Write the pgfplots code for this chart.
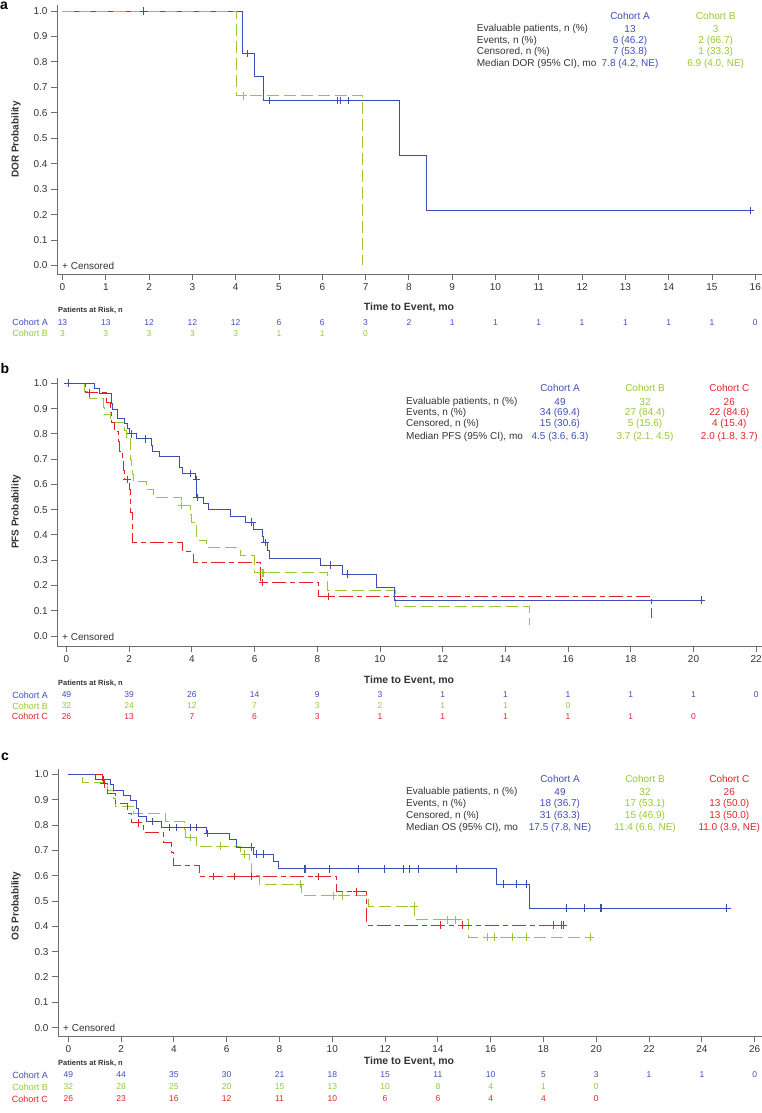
\documentclass[border=0pt]{standalone}
\usepackage{fontspec}
\setmainfont{Liberation Sans}
\usepackage{pgfplots}
\pgfplotsset{compat=1.18}
\definecolor{cA}{RGB}{62,78,184}
\definecolor{cB}{RGB}{150,200,50}
\definecolor{cC}{RGB}{228,35,40}
\definecolor{txt}{RGB}{51,51,51}
\definecolor{axl}{RGB}{110,110,110}
\pgfplotsset{
  kmaxis/.style={
    scale only axis, axis x line*=bottom, axis y line*=left,
    tick align=outside, major tick length=6pt,
    axis line style={axl, line width=0.9pt},
    tick style={axl, line width=0.9pt},
    ytick={0,0.1,0.2,0.3,0.4,0.5,0.6,0.7,0.8,0.9,1},
    tick label style={font=\fontsize{10}{12}\selectfont, text=txt},
    yticklabel style={/pgf/number format/.cd, fixed, fixed zerofill, precision=1},
    /pgf/number format/assume math mode=true,
    clip=false, anchor=south west,
  },
  lineA/.style={cA, line width=0.9pt, const plot, no marks},
  lineB/.style={cB, line width=0.9pt, const plot, no marks, dash pattern=on 12pt off 5pt},
  lineC/.style={cC, line width=0.9pt, const plot, no marks, dash pattern=on 14pt off 4pt on 5pt off 4pt},
  censA/.style={cA, only marks, mark=+, mark size=3.8pt, mark options={line width=0.9pt, solid}},
  censB/.style={cB, only marks, mark=+, mark size=3.8pt, mark options={line width=0.9pt, solid}},
  censC/.style={cC, only marks, mark=+, mark size=3.8pt, mark options={line width=0.9pt, solid}},
}
\newcommand{\tf}{\fontsize{10}{12}\selectfont}
\newcommand{\rf}{\fontsize{8.5}{10}\selectfont}
\newcommand{\lf}{\fontsize{9}{10}\selectfont}
\begin{document}
\begin{tikzpicture}
\path[use as bounding box] (0,0) rectangle (762pt,1113pt);
% ---------------- Panel a ----------------
\begin{axis}[kmaxis, at={(57pt,839pt)}, width=705pt, height=269pt,
  xmin=-0.127, xmax=16.155, ymin=-0.0334, ymax=1.0236,
  xtick={0,1,...,16}]
\addplot[lineA] coordinates {(0,1) (4.16,0.833) (4.44,0.741) (4.64,0.648) (7.78,0.432) (8.41,0.216) (15.88,0.216)};
\addplot[lineB] coordinates {(0,1) (4.01,0.667) (6.93,0)};
\addplot[censA] coordinates {(1.88,1) (4.27,0.833) (4.77,0.648) (6.35,0.648) (6.41,0.648) (6.6,0.648) (15.88,0.216)};
\addplot[censB] coordinates {(4.18,0.667)};
\end{axis}
% ---------------- Panel b ----------------
\begin{axis}[kmaxis, at={(57.3pt,467pt)}, width=704.7pt, height=268pt,
  xmin=-0.293, xmax=22.185, ymin=-0.0396, ymax=1.021,
  xtick={0,2,...,22}]
\addplot[lineB] coordinates {(0,1) (0.57,0.969) (0.73,0.94) (1.18,0.906) (1.2,0.875) (1.4,0.844) (1.85,0.813) (1.9,0.781) (2.04,0.70) (2.08,0.66) (2.1,0.64) (2.14,0.61) (2.55,0.58) (2.78,0.548) (3.67,0.516) (3.94,0.48) (3.98,0.45) (4.15,0.38) (4.47,0.35) (5.54,0.317) (5.99,0.25) (8.32,0.18) (10.48,0.116) (14.76,0.045)};
\addplot[lineC] coordinates {(0,1) (0.6,0.962) (1.26,0.923) (1.39,0.885) (1.42,0.846) (1.53,0.808) (1.67,0.77) (1.7,0.731) (1.8,0.692) (1.82,0.654) (1.85,0.62) (2.0,0.578) (2.05,0.49) (2.1,0.37) (3.7,0.333) (4.04,0.29) (6.2,0.211) (8.05,0.156) (18.67,0.07)};
\addplot[lineA] coordinates {(0,1) (0.89,0.98) (1.05,0.959) (1.42,0.92) (1.47,0.898) (1.64,0.86) (1.85,0.84) (1.96,0.82) (2.0,0.80) (2.22,0.78) (2.7,0.755) (2.74,0.73) (2.97,0.71) (3.61,0.665) (3.7,0.643) (4.1,0.62) (4.15,0.548) (4.36,0.525) (4.52,0.50) (5.22,0.475) (5.7,0.45) (5.97,0.42) (6.24,0.394) (6.29,0.37) (6.4,0.34) (6.48,0.305) (8.1,0.28) (8.8,0.245) (9.9,0.193) (10.47,0.142) (20.26,0.142)};
\addplot[censA] coordinates {(0.05,1) (2.06,0.80) (2.51,0.78) (3.94,0.643) (4.15,0.62) (4.17,0.548) (5.91,0.45) (6.34,0.37) (8.43,0.28) (8.96,0.245) (20.26,0.142)};
\addplot[censB] coordinates {(3.67,0.516) (6.26,0.25) (6.29,0.25)};
\addplot[censC] coordinates {(0.73,0.962) (1.93,0.62) (6.26,0.211) (8.37,0.156)};
\end{axis}
% ---------------- Panel c ----------------
\begin{axis}[kmaxis, at={(58pt,77pt)}, width=704pt, height=267pt,
  xmin=-0.39, xmax=26.277, ymin=-0.0332, ymax=1.021,
  xtick={0,2,...,26}]
\addplot[lineB] coordinates {(0,1) (0.53,0.969) (1.49,0.938) (1.7,0.906) (1.77,0.875) (2.46,0.846) (3.69,0.813) (4.39,0.781) (4.45,0.75) (4.84,0.716) (6.53,0.685) (6.86,0.65) (6.94,0.6) (7.23,0.567) (8.84,0.52) (11.36,0.48) (13.1,0.425) (15.15,0.357) (19.76,0.357)};
\addplot[lineC] coordinates {(0,1) (1.3,0.962) (1.48,0.923) (1.77,0.885) (2.25,0.846) (2.4,0.808) (2.84,0.77) (3.6,0.73) (3.91,0.69) (3.99,0.642) (4.96,0.596) (10.16,0.536) (11.3,0.405) (18.76,0.405)};
\addplot[lineA] coordinates {(0,1) (1.01,0.98) (1.58,0.959) (1.7,0.938) (2.08,0.918) (2.37,0.897) (2.59,0.866) (2.65,0.835) (2.97,0.814) (3.54,0.79) (5.24,0.766) (6.1,0.742) (6.38,0.713) (7.0,0.685) (7.77,0.656) (7.95,0.627) (16.2,0.567) (17.48,0.471) (24.94,0.471)};
\addplot[censA] coordinates {(1.33,0.98) (3.19,0.814) (3.85,0.79) (4.1,0.79) (4.61,0.79) (4.86,0.79) (5.27,0.766) (6.94,0.713) (7.13,0.685) (7.39,0.685) (8.96,0.627) (9.0,0.627) (9.89,0.627) (10.98,0.627) (11.96,0.627) (12.7,0.627) (12.94,0.627) (13.28,0.627) (14.71,0.627) (16.48,0.567) (16.96,0.567) (17.34,0.567) (18.87,0.471) (19.55,0.471) (20.14,0.471) (20.2,0.471) (24.94,0.471)};
\addplot[censB] coordinates {(4.61,0.75) (5.75,0.716) (6.69,0.685) (8.78,0.567) (10.04,0.52) (10.37,0.52) (13.1,0.48) (14.36,0.425) (14.68,0.425) (15.87,0.357) (16.13,0.357) (16.82,0.357) (17.35,0.357) (19.76,0.357)};
\addplot[censC] coordinates {(1.36,0.962) (2.65,0.808) (5.49,0.596) (6.31,0.596) (6.94,0.596) (9.47,0.596) (10.92,0.536) (14.08,0.405) (14.92,0.405) (18.37,0.405) (18.69,0.405) (18.76,0.405)};
\end{axis}
% ---------------- Text ----------------
\begin{scope}[x=1pt, y=-1pt, yshift=1113pt]
% panel letters
\node[font=\fontsize{14}{14}\selectfont\bfseries] at (4,6) {a};
\node[font=\fontsize{14}{14}\selectfont\bfseries] at (5,369) {b};
\node[font=\fontsize{14}{14}\selectfont\bfseries] at (5,757) {c};
% y labels
\node[rotate=90, font=\tf\bfseries, text=txt] at (16,139.5) {DOR Probability};
\node[rotate=90, font=\tf\bfseries, text=txt] at (16,512) {PFS Probability};
\node[rotate=90, font=\tf\bfseries, text=txt] at (16,906) {OS Probability};
% censored note
\node[anchor=west, font=\tf, text=txt, inner sep=0pt] at (62,265.5) {+ Censored};
\node[anchor=west, font=\tf, text=txt, inner sep=0pt] at (62,636.5) {+ Censored};
\node[anchor=west, font=\tf, text=txt, inner sep=0pt] at (63,1028) {+ Censored};
% x labels
\node[font=\fontsize{10.5}{12}\selectfont\bfseries, text=txt] at (409,307.7) {Time to Event, mo};
\node[font=\fontsize{10.5}{12}\selectfont\bfseries, text=txt] at (409,680.7) {Time to Event, mo};
\node[font=\fontsize{10.5}{12}\selectfont\bfseries, text=txt] at (409,1061.7) {Time to Event, mo};
% patients at risk headings
\node[anchor=west, inner sep=0pt, font=\fontsize{7.5}{9}\selectfont\bfseries, text=txt] at (58,310.5) {Patients at Risk, n};
\node[anchor=west, inner sep=0pt, font=\fontsize{7.5}{9}\selectfont\bfseries, text=txt] at (58,683) {Patients at Risk, n};
\node[anchor=west, inner sep=0pt, font=\fontsize{7.5}{9}\selectfont\bfseries, text=txt] at (58,1063.5) {Patients at Risk, n};
% risk table a
\node[anchor=east, inner sep=0pt, font=\lf, text=cA] at (48,322.3) {Cohort A};
\node[anchor=east, inner sep=0pt, font=\lf, text=cB] at (48,333.7) {Cohort B};
\foreach \v [count=\i from 0] in {13,13,12,12,12,6,6,3,2,1,1,1,1,1,1,1,0}
  \node[font=\rf, text=cA, inner sep=0pt] at ({62.5+43.3*\i},322.3) {\v};
\foreach \v [count=\i from 0] in {3,3,3,3,3,1,1,0}
  \node[font=\rf, text=cB, inner sep=0pt] at ({62.5+43.3*\i},333.7) {\v};
% risk table b
\node[anchor=east, inner sep=0pt, font=\lf, text=cA] at (48,695) {Cohort A};
\node[anchor=east, inner sep=0pt, font=\lf, text=cB] at (48,705.8) {Cohort B};
\node[anchor=east, inner sep=0pt, font=\lf, text=cC] at (48,716.7) {Cohort C};
\foreach \v [count=\i from 0] in {49,39,26,14,9,3,1,1,1,1,1,0}
  \node[font=\rf, text=cA, inner sep=0pt] at ({66.5+62.7*\i},695) {\v};
\foreach \v [count=\i from 0] in {32,24,12,7,3,2,1,1,0}
  \node[font=\rf, text=cB, inner sep=0pt] at ({66.5+62.7*\i},705.8) {\v};
\foreach \v [count=\i from 0] in {26,13,7,6,3,1,1,1,1,1,0}
  \node[font=\rf, text=cC, inner sep=0pt] at ({66.5+62.7*\i},716.7) {\v};
% risk table c
\node[anchor=east, inner sep=0pt, font=\lf, text=cA] at (48,1075) {Cohort A};
\node[anchor=east, inner sep=0pt, font=\lf, text=cB] at (48,1087) {Cohort B};
\node[anchor=east, inner sep=0pt, font=\lf, text=cC] at (48,1099) {Cohort C};
\foreach \v [count=\i from 0] in {49,44,35,30,21,18,15,11,10,5,3,1,1,0}
  \node[font=\rf, text=cA, inner sep=0pt] at ({68.3+52.8*\i},1075) {\v};
\foreach \v [count=\i from 0] in {32,28,25,20,15,13,10,8,4,1,0}
  \node[font=\rf, text=cB, inner sep=0pt] at ({68.3+52.8*\i},1087) {\v};
\foreach \v [count=\i from 0] in {26,23,16,12,11,10,6,6,4,4,0}
  \node[font=\rf, text=cC, inner sep=0pt] at ({68.3+52.8*\i},1099) {\v};
% stats table a
\node[font=\tf, text=cA] at (630,15.7) {Cohort A};
\node[font=\tf, text=cB] at (715.7,15.7) {Cohort B};
\node[anchor=west, inner sep=0pt, font=\tf, text=txt] at (476.7,29) {Evaluable patients, n (\%)};
\node[anchor=west, inner sep=0pt, font=\tf, text=txt] at (476.7,40.7) {Events, n (\%)};
\node[anchor=west, inner sep=0pt, font=\tf, text=txt] at (476.7,52.3) {Censored, n (\%)};
\node[anchor=west, inner sep=0pt, font=\tf, text=txt] at (476.7,64) {Median DOR (95\% CI), mo};
\node[font=\tf, text=cA] at (630,29) {13};
\node[font=\tf, text=cA] at (630,40.7) {6 (46.2)};
\node[font=\tf, text=cA] at (630,52.3) {7 (53.8)};
\node[font=\tf, text=cA] at (630,64) {7.8 (4.2, NE)};
\node[font=\tf, text=cB] at (715.7,29) {3};
\node[font=\tf, text=cB] at (715.7,40.7) {2 (66.7)};
\node[font=\tf, text=cB] at (715.7,52.3) {1 (33.3)};
\node[font=\tf, text=cB] at (715.7,64) {6.9 (4.0, NE)};
% stats table b
\node[font=\tf, text=cA] at (560,388.3) {Cohort A};
\node[font=\tf, text=cB] at (645,388.3) {Cohort B};
\node[font=\tf, text=cC] at (729.3,388.3) {Cohort C};
\node[anchor=west, inner sep=0pt, font=\tf, text=txt] at (406,401.7) {Evaluable patients, n (\%)};
\node[anchor=west, inner sep=0pt, font=\tf, text=txt] at (406,412.9) {Events, n (\%)};
\node[anchor=west, inner sep=0pt, font=\tf, text=txt] at (406,424.3) {Censored, n (\%)};
\node[anchor=west, inner sep=0pt, font=\tf, text=txt] at (406,436.5) {Median PFS (95\% CI), mo};
\node[font=\tf, text=cA] at (560,401.7) {49};
\node[font=\tf, text=cA] at (560,412.9) {34 (69.4)};
\node[font=\tf, text=cA] at (560,424.3) {15 (30.6)};
\node[font=\tf, text=cA] at (560,436.5) {4.5 (3.6, 6.3)};
\node[font=\tf, text=cB] at (645,401.7) {32};
\node[font=\tf, text=cB] at (645,412.9) {27 (84.4)};
\node[font=\tf, text=cB] at (645,424.3) {5 (15.6)};
\node[font=\tf, text=cB] at (645,436.5) {3.7 (2.1, 4.5)};
\node[font=\tf, text=cC] at (729.3,401.7) {26};
\node[font=\tf, text=cC] at (729.3,412.9) {22 (84.6)};
\node[font=\tf, text=cC] at (729.3,424.3) {4 (15.4)};
\node[font=\tf, text=cC] at (729.3,436.5) {2.0 (1.8, 3.7)};
% stats table c
\node[font=\tf, text=cA] at (560,779.3) {Cohort A};
\node[font=\tf, text=cB] at (645,779.3) {Cohort B};
\node[font=\tf, text=cC] at (729.3,779.3) {Cohort C};
\node[anchor=west, inner sep=0pt, font=\tf, text=txt] at (406,792.3) {Evaluable patients, n (\%)};
\node[anchor=west, inner sep=0pt, font=\tf, text=txt] at (406,803.6) {Events, n (\%)};
\node[anchor=west, inner sep=0pt, font=\tf, text=txt] at (406,815.6) {Censored, n (\%)};
\node[anchor=west, inner sep=0pt, font=\tf, text=txt] at (406,827.7) {Median OS (95\% CI), mo};
\node[font=\tf, text=cA] at (560,792.3) {49};
\node[font=\tf, text=cA] at (560,803.6) {18 (36.7)};
\node[font=\tf, text=cA] at (560,815.6) {31 (63.3)};
\node[font=\tf, text=cA] at (560,827.7) {17.5 (7.8, NE)};
\node[font=\tf, text=cB] at (645,792.3) {32};
\node[font=\tf, text=cB] at (645,803.6) {17 (53.1)};
\node[font=\tf, text=cB] at (645,815.6) {15 (46.9)};
\node[font=\tf, text=cB] at (645,827.7) {11.4 (6.6, NE)};
\node[font=\tf, text=cC] at (729.3,792.3) {26};
\node[font=\tf, text=cC] at (729.3,803.6) {13 (50.0)};
\node[font=\tf, text=cC] at (729.3,815.6) {13 (50.0)};
\node[font=\tf, text=cC] at (729.3,827.7) {11.0 (3.9, NE)};
\end{scope}
\end{tikzpicture}
\end{document}
